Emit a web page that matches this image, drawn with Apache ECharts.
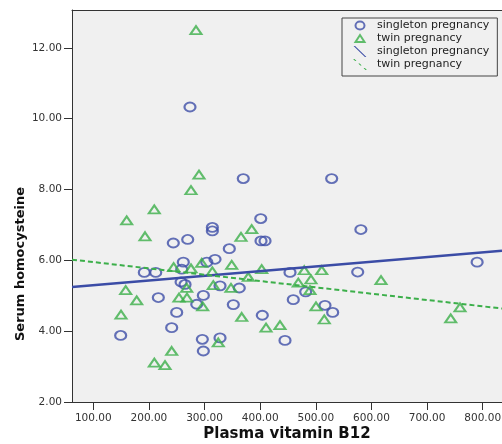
<!DOCTYPE html>
<html><head><meta charset="utf-8">
<script src="https://cdn.jsdelivr.net/npm/echarts@6/dist/echarts.min.js"></script>
<style>html,body{margin:0;padding:0;background:#fff}#c{width:502px;height:444px}</style>
</head><body><div id="c"></div>
<script>
// Plasma vitamin B12 (x) and serum homocysteine (y)
const singletonB12 = [273.8, 369.6, 528.5, 401, 314, 314, 581, 243.8, 269.7, 401.5, 408.7, 344.5, 318.8, 304, 261.8, 790, 191.7, 212.2, 258.9, 453.6, 575.3, 257.8, 264.9, 327.8, 362.4, 216.9, 297.8, 286, 351.7, 481.8, 459.5, 516.5, 530.3, 249.9, 403.8, 240.9, 149.2, 296, 327.8, 297.8, 444.6];
const singletonHcy = [10.33, 8.31, 8.31, 7.18, 6.93, 6.83, 6.87, 6.49, 6.59, 6.55, 6.55, 6.33, 6.03, 5.95, 5.95, 5.95, 5.66, 5.66, 5.75, 5.66, 5.67, 5.39, 5.32, 5.28, 5.22, 4.95, 5.01, 4.76, 4.75, 5.11, 4.89, 4.73, 4.53, 4.53, 4.45, 4.10, 3.88, 3.77, 3.81, 3.44, 3.74];
const twinB12 = [284.6, 290, 275.6, 209.6, 160, 193, 384.7, 365.5, 294.9, 244.4, 348.8, 275.6, 314, 402.7, 479.3, 510.6, 378.6, 468.5, 491.3, 617.2, 489.5, 267.9, 158.2, 178, 254, 268.4, 296.6, 315.7, 347.5, 366.8, 149.8, 324.7, 240.9, 209.7, 228.9, 500.3, 515.2, 410.5, 435.6, 759.2, 742.5];
const twinHcy = [12.5, 8.42, 7.98, 7.44, 7.13, 6.68, 6.88, 6.66, 5.93, 5.81, 5.87, 5.77, 5.69, 5.75, 5.72, 5.72, 5.53, 5.37, 5.46, 5.44, 5.16, 5.22, 5.16, 4.87, 4.95, 4.95, 4.70, 5.30, 5.22, 4.40, 4.47, 3.68, 3.44, 3.11, 3.04, 4.70, 4.33, 4.10, 4.17, 4.67, 4.36];
// fit lines (read at the plot edges)
const singletonFitB12 = [61.7, 834.7];
const singletonFitHcy = [5.25, 6.27];
const twinFitB12 = [61.7, 834.7];
const twinFitHcy = [6.02, 4.64];
// axis ticks
const xTicks = [100, 200, 300, 400, 500, 600, 700, 800];
const yTicks = [2, 4, 6, 8, 10, 12];
const xRange = [61.7, 834.7];
const yRange = [2, 13.07];

const BLUE = '#3f4fa8', BLUE_LINE = '#3b4ca6', GREEN = '#3caf4a';
const pair = (a, b) => a.map((v, i) => [v, b[i]]);

const chart = echarts.init(document.getElementById('c'), null, {renderer: 'canvas'});
const axisFont = {fontFamily: 'DejaVu Sans', fontSize: 10.5, color: '#333'};
chart.setOption({
  backgroundColor: '#fff',
  animation: false,
  grid: {left: 72, right: 0, top: 10, bottom: 42, show: true, backgroundColor: '#f0f0f0', borderWidth: 0, outerBoundsMode: 'none', containLabel: false},
  legend: {
    orient: 'vertical', left: 342, top: 18,
    padding: [1, 8, 5, 10], itemGap: 0, itemWidth: 14, itemHeight: 11,
    backgroundColor: '#f0f0f0', borderColor: '#444', borderWidth: 1,
    textStyle: {fontFamily: 'DejaVu Sans', fontSize: 11, color: '#222', lineHeight: 13, padding: [0, 0, 0, 5]},
    formatter: n => n.trim(),
    data: [
      {name: 'singleton pregnancy', icon: 'path://M0,0L0,0M14,11L14,11M2.5,5.5A4.5,4 0 1,1 11.5,5.5A4.5,4 0 1,1 2.5,5.5Z', itemStyle: {color: 'rgba(0,0,0,0)', borderColor: BLUE, borderWidth: 2}},
      {name: 'twin pregnancy', icon: 'path://M0,0L0,0M14,11L14,11M7,2L11.5,9L2.5,9Z', itemStyle: {color: 'rgba(0,0,0,0)', borderColor: GREEN, borderWidth: 2}},
      {name: 'singleton pregnancy ', icon: 'path://M0,0L1.6,0L14,12L12.4,12Z', itemStyle: {color: BLUE_LINE, borderWidth: 0}},
      {name: 'twin pregnancy ', icon: 'path://M0,0L1.4,0L3.4,2L2,2Z M5.3,4.6L6.7,4.6L8.7,6.6L7.3,6.6Z M10.6,9.2L12,9.2L14,11.2L12.6,11.2Z', itemStyle: {color: GREEN, borderWidth: 0}}
    ]
  },
  xAxis: [{
    type: 'value', min: xRange[0], max: xRange[1], minInterval: 100, maxInterval: 100,
    name: 'Plasma vitamin B12', nameLocation: 'middle', nameGap: 25, nameMoveOverlap: false,
    nameTextStyle: {fontFamily: 'DejaVu Sans', fontWeight: 'bold', fontSize: 15, color: '#111'},
    axisLine: {show: true, onZero: false, lineStyle: {color: '#333', width: 1}},
    axisTick: {show: true, length: 8, customValues: xTicks, lineStyle: {color: '#333'}},
    axisLabel: Object.assign({margin: 11, customValues: xTicks, formatter: v => v.toFixed(2)}, axisFont),
    splitLine: {show: false}
  }, {
    type: 'value', position: 'top', min: xRange[0], max: xRange[1],
    axisLine: {show: true, onZero: false, lineStyle: {color: '#333', width: 1}},
    axisTick: {show: false}, axisLabel: {show: false}, splitLine: {show: false}
  }],
  yAxis: {
    type: 'value', min: yRange[0], max: yRange[1],
    name: 'Serum homocysteine', nameLocation: 'middle', nameGap: 45, nameMoveOverlap: false,
    nameTextStyle: {fontFamily: 'DejaVu Sans', fontWeight: 'bold', fontSize: 13, color: '#111', padding: [0, 116, 0, 0]},
    axisLine: {show: true, onZero: false, lineStyle: {color: '#333', width: 1}},
    axisTick: {show: true, length: 8, customValues: yTicks, lineStyle: {color: '#333'}},
    axisLabel: Object.assign({margin: 10, customValues: yTicks, formatter: v => v.toFixed(2)}, axisFont),
    splitLine: {show: false}
  },
  series: [
    {name: 'singleton pregnancy', type: 'scatter', symbol: 'circle', symbolSize: [11, 9],
     itemStyle: {color: 'rgba(0,0,0,0)', borderColor: BLUE, borderWidth: 2},
     data: pair(singletonB12, singletonHcy)},
    {name: 'twin pregnancy', type: 'scatter', symbol: 'triangle', symbolSize: [11, 8],
     itemStyle: {color: 'rgba(0,0,0,0)', borderColor: GREEN, borderWidth: 2},
     data: pair(twinB12, twinHcy)},
    {name: 'singleton pregnancy ', type: 'line', symbol: 'none', color: BLUE_LINE,
     lineStyle: {color: BLUE_LINE, width: 2.5}, data: pair(singletonFitB12, singletonFitHcy)},
    {name: 'twin pregnancy ', type: 'line', symbol: 'none', color: GREEN,
     lineStyle: {color: GREEN, width: 2, type: [5, 3]}, data: pair(twinFitB12, twinFitHcy)}
  ]
});
</script></body></html>
